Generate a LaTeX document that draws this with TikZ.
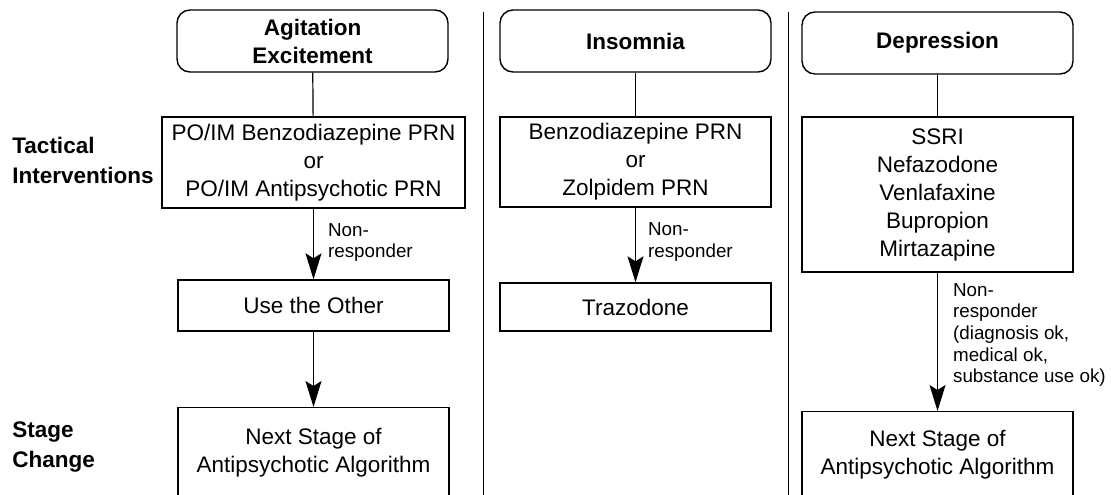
\documentclass[tikz,border=0pt]{standalone}
\usepackage{fontspec}
\setmainfont{Liberation Sans}
\usetikzlibrary{positioning}
\usetikzlibrary{arrows.meta}

\begin{document}
\begin{tikzpicture}[x=0.5pt, y=-0.5pt,
        every node/.style={font=\fontsize{11.25pt}{14pt}\selectfont, align=center, inner sep=0pt},
        headbox/.style={draw, line width=0.7pt, rounded corners=6.5pt, minimum width=135.5pt, minimum height=31pt,
            font=\fontsize{11.25pt}{14pt}\selectfont\bfseries},
        stepbox/.style={draw, line width=0.7pt, minimum width=135.5pt},
        sidelabel/.style={anchor=west, align=left, font=\fontsize{11.25pt}{15pt}\selectfont\bfseries},
        nrlabel/.style={align=left, font=\fontsize{9.4pt}{10.8pt}\selectfont},
        arr/.style={-{Stealth[length=13pt, width=8pt, inset=2.5pt]}, line width=0.6pt}]
            \clip (0,0) rectangle (1111,494);

            % Row labels
            \node[sidelabel] (tactical) at (12,160) {Tactical\\Interventions};
            \node[sidelabel] (stage) at (12,447) {Stage\\Change};

            % Column separators
            \draw[line width=0.5pt] (483,12) -- (483,500);
            \draw[line width=0.5pt] (788,12) -- (788,500);

            % Agitation / excitement
            \node[headbox] (agit) at (312.5,41) {Agitation\\Excitement};
            \node[stepbox, minimum width=151.5pt, minimum height=45.5pt] (tacagit) at (313.5,162.5)
                {PO/IM Benzodiazepine PRN\\or\\PO/IM Antipsychotic PRN};
            \node[stepbox, minimum height=25.5pt] (other) at (313.5,305.5) {Use the Other};
            \node[stepbox, minimum height=45pt, anchor=north] (nextagit) at (313.5,407)
                {Next Stage of\\Antipsychotic Algorithm};
            \draw[line width=0.6pt] (agit) -- (tacagit);
            \draw[arr] (tacagit.south) -- (other.north) node[pos=0.48, right=7pt, nrlabel] {Non-\\responder};
            \draw[arr] (other.south) -- (nextagit.north);

            % Insomnia
            \node[headbox] (insom) at (635.5,41) {Insomnia};
            \node[stepbox, minimum height=45pt] (tacinsom) at (635.5,162)
                {Benzodiazepine PRN\\or\\Zolpidem PRN};
            \node[stepbox, minimum height=24pt] (traz) at (635.5,307) {Trazodone};
            \draw[line width=0.6pt] (insom) -- (tacinsom);
            \draw[arr] (tacinsom.south) -- (traz.north) node[pos=0.46, right=6pt, nrlabel] {Non-\\responder};

            % Depression
            \node[headbox] (depr) at (937.5,43) {Depression};
            \node[stepbox, minimum height=77.5pt] (tacdepr) at (937.5,194.5)
                {SSRI\\Nefazodone\\Venlafaxine\\Bupropion\\Mirtazapine};
            \node[stepbox, minimum height=43pt, anchor=north] (nextdepr) at (937.5,411)
                {Next Stage of\\Antipsychotic Algorithm};
            \draw[line width=0.6pt] (depr) -- (tacdepr);
            \draw[arr] (tacdepr.south) -- (nextdepr.north) node[pos=0.45, right=7.5pt, nrlabel]
                {Non-\\responder\\(diagnosis ok,\\medical ok,\\substance use ok)};

        \end{tikzpicture}
\end{document}
